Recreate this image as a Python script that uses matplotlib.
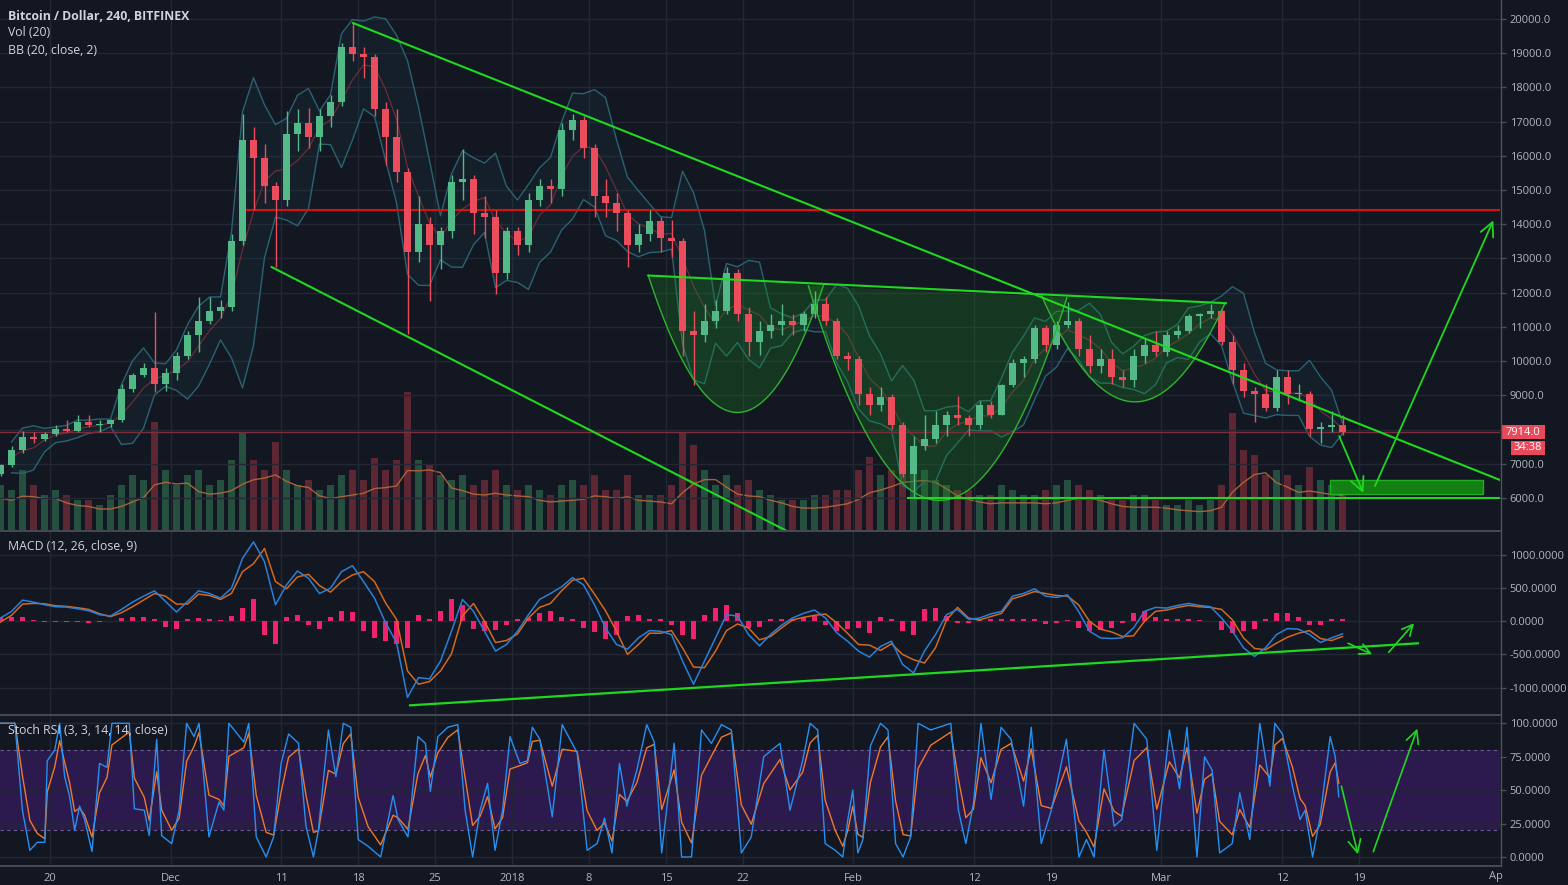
import numpy as np
import pandas as pd
import matplotlib
matplotlib.use("Agg")
import matplotlib.pyplot as plt
from matplotlib.patches import Rectangle
from matplotlib.lines import Line2D

# ---------------- data (daily) ----------------
start_date = "2017-11-15"
ref_date = "2017-11-20"          # day 0 of the time axis
open_first = 6700

closes = [6960, 7410, 7770, 7720, 7870, 8020, 7970, 8220, 8120, 8170,
          8270, 9190, 9590, 9800, 9340, 9640, 10160, 10770, 11170, 11470,
          11580, 13500, 16450, 15940, 15130, 14720, 16650, 16950, 16550, 17160,
          17560, 19190, 18990, 18880, 17360, 16550, 15530, 13200, 14010, 13400,
          13810, 15230, 15330, 14320, 14220, 12590, 13810, 13400, 14720, 15130,
          15030, 16750, 17060, 16240, 14820, 14620, 14320, 13400, 13710, 14110,
          13610, 13500, 10870, 10770, 11170, 11470, 12590, 11370, 10560, 10870,
          11070, 11170, 11070, 11370, 11680, 11170, 10160, 10060, 9040, 8730,
          8940, 8120, 6700, 7520, 7720, 8120, 8430, 8330, 8120, 8730,
          8430, 9290, 9950, 10060, 10970, 10460, 11070, 11170, 10360, 9850,
          10060, 9540, 9440, 10160, 10460, 10260, 10770, 10870, 11320, 11370,
          11470, 10560, 9750, 9140, 9040, 8630, 9550, 9040, 9040, 8020,
          8070, 8130, 7914]

highs = [7000, 7520, 7970, 7920, 7920, 8120, 8270, 8430, 8430, 8270,
         8320, 9340, 9640, 9950, 11450, 9800, 10260, 10870, 11880, 11880,
         11780, 13710, 17210, 16850, 16350, 15230, 17300, 17360, 17390, 17360,
         17770, 19290, 19910, 19190, 18990, 17560, 17360, 15640, 14820, 14220,
         13910, 15430, 16200, 15430, 14820, 14420, 13910, 13910, 14920, 15330,
         15330, 16950, 17210, 17160, 16350, 15330, 14920, 14420, 14010, 14420,
         14220, 14120, 13610, 11470, 11680, 11780, 12760, 12690, 11570, 11170,
         11370, 11680, 11370, 11470, 12050, 11880, 11270, 10260, 10160, 9240,
         9240, 9040, 8220, 7820, 8430, 8530, 8530, 8990, 8430, 8840,
         8840, 9340, 10050, 10160, 11070, 11070, 11170, 11720, 11270, 10770,
         10360, 10360, 9750, 10360, 10670, 10870, 10870, 11070, 11370, 11420,
         11670, 11520, 10770, 9950, 9240, 9340, 9750, 9750, 9340, 9140,
         8220, 8530, 8430]

lows = [6650, 6910, 7310, 7620, 7670, 7820, 7920, 7920, 8070, 7920,
        8070, 8220, 9090, 9540, 9090, 9140, 9440, 10050, 10260, 11080,
        11270, 11470, 13400, 14420, 14620, 12760, 14520, 16140, 16240, 16140,
        16850, 17460, 18780, 18270, 17160, 15740, 15230, 10780, 12900, 11750,
        12690, 13610, 14720, 13710, 13610, 11960, 12390, 13100, 13200, 14520,
        14620, 14820, 16450, 15940, 14210, 14210, 13810, 12760, 13200, 13510,
        13200, 13050, 10160, 9290, 10560, 10970, 11370, 11170, 10160, 10190,
        10670, 10770, 10770, 10870, 11270, 11070, 10060, 9750, 8730, 8430,
        8530, 8020, 6600, 6000, 7410, 7620, 7820, 8120, 7820, 8020,
        8330, 8430, 9240, 9540, 9950, 10260, 10360, 10970, 10160, 9650,
        9650, 9340, 9240, 9240, 9950, 10160, 10160, 10670, 10820, 10970,
        11270, 10460, 9340, 8940, 8220, 8530, 8530, 8740, 8840, 7820,
        7620, 7920, 7850]

volumes = [45, 40, 60, 45, 35, 40, 35, 30, 30, 25,
           35, 45, 55, 50, 108, 60, 45, 55, 60, 45,
           50, 70, 97, 70, 60, 88, 60, 45, 50, 40,
           45, 55, 60, 50, 72, 60, 70, 138, 70, 65,
           55, 50, 55, 45, 50, 60, 45, 40, 45, 40,
           35, 45, 50, 45, 55, 40, 40, 55, 35, 35,
           35, 45, 98, 85, 60, 45, 55, 45, 50, 40,
           35, 30, 30, 30, 35, 35, 40, 40, 60, 73,
           55, 60, 83, 80, 60, 50, 45, 40, 40, 35,
           35, 45, 40, 35, 35, 40, 45, 50, 45, 40,
           35, 30, 30, 35, 35, 30, 25, 25, 30, 25,
           30, 45, 117, 80, 75, 55, 60, 55, 45, 63,
           50, 45, 40]

macd_vals = [50, 150, 320, 290, 250, 220, 215, 190, 160, 100,
             80, 180, 290, 380, 460, 300, 140, 300, 460, 420,
             350, 500, 950, 1200, 900, 250, 550, 760, 650, 420,
             500, 750, 840, 600, 350, -20, -320, -1150, -850, -870,
             -600, -150, 330, 150, -150, -450, -350, -150, 100, 330,
             420, 520, 660, 550, 250, -100, -350, -420, -250, -140,
             -150, -200, -600, -950, -600, -250, 100, 80, -200, -370,
             -200, -60, 50, 120, 170, 50, -170, -300, -450, -540,
             -380, -300, -650, -780, -450, -200, 100, 180, 30, 50,
             110, 150, 380, 420, 490, 380, 360, 400, 150, -150,
             -250, -260, -250, -100, 150, 210, 200, 240, 270, 240,
             220, 50, -150, -400, -530, -400, -200, -110, -120, -200,
             -320, -250, -190]

macd_hist = [60, 60, 60, 20, -15, -15, -10, -15, -20, -15,
             10, 50, 70, 60, 40, -80, -120, 40, 50, 30,
             20, 80, 200, 330, -200, -350, 60, 90, -60, -120,
             60, 150, 140, -150, -250, -300, -350, -400, 100, 40,
             150, 340, 250, -120, -150, -130, -60, 40, 50, 120,
             150, 60, 40, -100, -160, -260, -200, 80, 100, 40,
             30, -60, -200, -260, 100, 200, 240, 120, -100, -90,
             30, 40, 30, 60, 80, -60, -150, -120, -100, -180,
             60, 40, -150, -200, 180, 200, 80, -30, -20, 30,
             40, 30, 40, 30, 40, -40, -30, 20, -100, -150,
             -130, -100, -20, 120, 150, 60, 30, 30, 30, 20,
             10, -130, -170, -150, -120, 30, 130, 130, 60, -60,
             -60, 40, 40]

stoch_days = [-4.55, -3.19, -2.51, -1.83, -1.15, -0.47, -0.25, 0.43, 0.88, 1.33,
              1.79, 2.24, 2.69, 3.14, 3.82, 4.50, 5.18, 5.63, 7.21, 7.67,
              8.57, 9.02, 9.70, 10.15, 11.06, 11.74, 12.42, 13.09, 13.55, 14.45,
              15.36, 15.81, 16.26, 17.62, 18.07, 18.75, 19.65, 20.33, 21.01, 21.69,
              22.59, 23.27, 23.95, 24.40, 25.31, 25.99, 26.66, 27.34, 28.02, 28.92,
              30.06, 31.19, 31.64, 32.54, 33.45, 34.13, 34.58, 35.26, 36.16, 37.07,
              37.74, 38.42, 39.10, 39.78, 40.46, 41.14, 41.82, 42.72, 43.40, 43.85,
              44.53, 45.66, 46.56, 47.92, 48.83, 49.73, 50.41, 51.09, 51.77, 52.44,
              53.35, 54.25, 54.93, 55.61, 56.74, 57.42, 58.32, 59.23, 60.13, 61.04,
              61.94, 62.85, 63.75, 64.88,
              66.36, 67.27, 68.42, 69.10, 69.79, 70.47, 71.38, 72.07, 72.53, 72.98,
              73.44, 73.90, 74.58, 75.50, 76.18, 76.87, 77.55, 78.24, 78.92, 80.06,
              81.89, 82.58, 83.26, 83.95, 84.63, 85.55, 86.46, 87.37, 88.51, 89.20,
              90.11, 91.03, 92.40, 93.54, 94.22, 94.91, 95.82, 96.74, 97.42, 98.56,
              99.71, 100.62, 101.76, 102.68, 103.36, 104.27, 104.96, 105.64, 106.33, 107.47,
              108.16, 109.07, 109.98, 110.90, 111.35, 112.04, 112.95, 113.64, 114.10, 114.78,
              115.47, 116.38, 116.84, 117.16]

stoch_k = [100, 100, 35, 5, 11, 11, 72, 80, 100, 60,
           45, 20, 38, 28, 4, 70, 67, 100, 100, 36,
           35, 16, 88, 16, 10, 35, 100, 90, 100, 15,
           41, 35, 100, 86, 100, 15, 0, 15, 70, 92,
           85, 23, 0, 20, 95, 60, 100, 97, 13, 8,
           0, 46, 28, 15, 90, 85, 49, 90, 97, 99,
           35, 0, 35, 55, 5, 35, 90, 70, 72, 97,
           88, 30, 99, 78, 5, 10, 29, 3, 70, 38,
           65, 99, 86, 3, 85, 0, 0, 95, 85, 99,
           95, 3, 15, 75,
           85, 35, 72, 100, 95, 10, 5, 0, 28, 50,
           3, 13, 83, 100, 95, 10, 0, 15, 100, 95,
           100, 35, 10, 40, 100, 43, 97, 88, 38, 97,
           10, 35, 88, 0, 13, 0, 80, 23, 28, 100,
           88, 5, 95, 51, 97, 0, 75, 65, 3, 10,
           48, 13, 100, 53, 100, 92, 53, 28, 35, 0,
           30, 90, 75, 45]

price_ticks = [20000, 19000, 18000, 17000, 16000, 15000, 14000, 13000,
               12000, 11000, 10000, 9000, 8000, 7000, 6000]
macd_ticks = [1000, 500, 0, -500, -1000]
stoch_ticks = [100, 75, 50, 25, 0]
date_ticks = ["2017-11-20", "2017-12-01", "2017-12-11", "2017-12-18", "2017-12-25",
              "2018-01-01", "2018-01-08", "2018-01-15", "2018-01-22", "2018-02-01",
              "2018-02-12", "2018-02-19", "2018-03-01", "2018-03-12", "2018-03-19"]
date_labels = ["20", "Dec", "11", "18", "25", "2018", "8", "15", "22", "Feb",
               "12", "19", "Mar", "12", "19"]

last_price = 7914.0
countdown = "34:38"
resistance_price = 14430
support_price = 6000

# chart drawings: (day offset from 2017-11-20, value)
upper_trend_days, upper_trend_prices = [27.55, 131.82], [19883, 6525]
lower_trend_days, lower_trend_prices = [20.15, 67.0], [12750, 5034]
neck_days, neck_prices = [54.39, 106.91], [12502, 11693]
cup_left = ([54.39, 70.30], [12502, 12205], 8501)
cup_mid = ([68.94, 92.45], [12205, 11860], 5930)
cup_right = ([90.15, 106.82], [11910, 11693], 8810)
resist_days = [17.27, 131.82]
support_days = [78.0, 131.82]
target_box_days, target_box_prices = [116.36, 130.25], [6107, 6525]
price_arrows = [((117.2, 7808), (119.39, 6148)), ((120.45, 6347), (131.21, 14113))]
macd_trend_days, macd_trend_vals = [32.73, 124.36], [-1269, -332]
macd_arrows = [((118.0, -332), (120.2, -498)), ((121.7, -468), (124.0, -30))]
stoch_arrows = [((117.4, 53), (118.9, 2)), ((120.3, 4), (124.3, 96))]

# ---------------- styling ----------------
BG = "#131722"
GRID = "#232733"
TXT = "#B2B5BE"
UP, DN = "#53B987", "#EB4D5C"
VUP, VDN = "#25503F", "#5C2632"
LIME = "#1FD81F"
W, H = 1568, 885

plt.rcParams["font.family"] = ["Open Sans", "DejaVu Sans"]

fig = plt.figure(figsize=(W / 100, H / 100), dpi=100, facecolor=BG)


def rect(x0, y0, x1, y1):
    return [x0 / W, 1 - y1 / H, (x1 - x0) / W, (y1 - y0) / H]


XL = (-50 / 11, 1450 / 11)

dates = pd.date_range(start_date, periods=len(closes), freq="D")
day = (dates - pd.Timestamp(ref_date)).days.values.astype(float)
xc = day + 0.5
tick_days = (pd.to_datetime(date_ticks) - pd.Timestamp(ref_date)).days.values + 0.0

o = np.array([open_first] + closes[:-1], dtype=float)
c = np.array(closes, dtype=float)
h = np.array(highs, dtype=float)
l = np.array(lows, dtype=float)
up = c >= o


def style(ax, ylim, ticks, labels):
    ax.set_xlim(*XL)
    ax.set_ylim(*ylim)
    for s in ax.spines.values():
        s.set_visible(False)
    ax.yaxis.tick_right()
    ax.set_yticks(ticks)
    ax.set_yticklabels(labels)
    ax.tick_params(axis="y", colors="#4A4E5A", labelcolor=TXT, labelsize=8,
                   length=4, width=1, pad=3)
    ax.set_xticks(tick_days)
    ax.tick_params(axis="x", length=0, labelbottom=False)
    ax.grid(True, color=GRID, lw=1)
    ax.set_axisbelow(True)


# ---- volume (under price) ----
vax = fig.add_axes(rect(0, 0, 1500, 530))
vax.set_facecolor(BG)
vax.set_xlim(*XL)
vax.set_ylim(0, 530)
vax.set_xticks([]); vax.set_yticks([])
for s in vax.spines.values():
    s.set_visible(False)
vax.bar(xc, volumes, width=0.55, color=np.where(up, VUP, VDN), linewidth=0)
vma = pd.Series(volumes).rolling(4, min_periods=1).mean()
vax.plot(xc, vma * 0.7, color="#B5693A", lw=1, alpha=0.9)

# ---- price ----
ax = fig.add_axes(rect(0, 0, 1500, 530))
ax.patch.set_alpha(0)
style(ax, (5064, 20555), price_ticks,
      ["" if v == 8000 else f"{v:.1f}" for v in price_ticks])

s = pd.Series(closes, dtype=float)
mid = s.rolling(4, min_periods=2).mean()
sd = s.rolling(4, min_periods=2).std(ddof=0)
bb_up, bb_lo = mid + 2 * sd, mid - 2 * sd
ax.fill_between(xc, bb_lo, bb_up, color="#1E6878", alpha=0.10, lw=0, zorder=1)
ax.plot(xc, bb_up, color="#2A6370", lw=1, zorder=2)
ax.plot(xc, bb_lo, color="#2A6370", lw=1, zorder=2)
ax.plot(xc, mid, color="#6E2C36", lw=0.9, zorder=2)


def cup(days2, rim2, bottom):
    t = np.linspace(-1, 1, 120)
    xs = (days2[0] + days2[1]) / 2 + (days2[1] - days2[0]) / 2 * t
    rim = rim2[0] + (rim2[1] - rim2[0]) * (t + 1) / 2
    depth = (rim2[0] + rim2[1]) / 2 - bottom
    ys = rim - depth * (1 - t ** 2)
    ax.fill(xs, ys, color="#1E8C1E", alpha=0.27, lw=0, zorder=2)
    ax.plot(xs, ys, color="#2DB52D", lw=1, zorder=6)


for cp in (cup_left, cup_mid, cup_right):
    cup(*cp)

ax.plot(resist_days, [resistance_price] * 2, color="#D81010", lw=1.5, zorder=3)
ax.axhline(last_price, color="#7C2C3A", lw=1, zorder=3)

cols = np.where(up, UP, DN)
ax.vlines(xc, l, h, colors=cols, lw=1, zorder=4)
ax.bar(xc, np.maximum(np.abs(c - o), 40), bottom=np.minimum(o, c), width=0.62,
       color=cols, linewidth=0, zorder=5)

ax.plot(upper_trend_days, upper_trend_prices, color=LIME, lw=1.5, zorder=7)
ax.plot(lower_trend_days, lower_trend_prices, color=LIME, lw=1.5, zorder=7)
ax.plot(neck_days, neck_prices, color=LIME, lw=1.5, zorder=7)
ax.plot(support_days, [support_price] * 2, color=LIME, lw=1.5, zorder=7)
ax.add_patch(Rectangle((target_box_days[0], target_box_prices[0]),
                       target_box_days[1] - target_box_days[0],
                       target_box_prices[1] - target_box_prices[0],
                       facecolor="#138A13", edgecolor="#22B522", lw=1, alpha=0.92, zorder=7))

AST = "->,head_length=0.7,head_width=0.35"
for a, b in price_arrows:
    ax.annotate("", xy=b, xytext=a, zorder=8,
                arrowprops=dict(arrowstyle=AST, color=LIME, lw=1.3, mutation_scale=14,
                                shrinkA=0, shrinkB=0))

# ---- MACD ----
mx = fig.add_axes(rect(0, 531, 1500, 714))
mx.set_facecolor(BG)
style(mx, (-1400, 1364), macd_ticks, [f"{v:.4f}" for v in macd_ticks])
m = np.array(macd_vals, dtype=float)
hst = np.array(macd_hist, dtype=float)
sig = m - hst
mx.bar(xc, hst, width=0.45, color="#F0226E", linewidth=0, zorder=3)
mx.plot(xc, sig, color="#D2691E", lw=1.1, zorder=4)
mx.plot(xc, m, color="#2B7FD6", lw=1.1, zorder=5)
mx.plot(macd_trend_days, macd_trend_vals, color=LIME, lw=1.6, zorder=6)
for a, b in macd_arrows:
    mx.annotate("", xy=b, xytext=a, zorder=8,
                arrowprops=dict(arrowstyle=AST, color=LIME, lw=1.2, mutation_scale=11,
                                shrinkA=0, shrinkB=0))

# ---- Stoch RSI ----
sx = fig.add_axes(rect(0, 715, 1500, 865))
sx.set_facecolor(BG)
style(sx, (-6.0, 106.2), stoch_ticks, [f"{v:.4f}" for v in stoch_ticks])
sx.fill_between(list(XL), 20, 80, color="#2C1A4E", lw=0, zorder=0.2)
sx.axhline(80, color="#6C5B8C", lw=0.8, ls=(0, (3, 3)), zorder=1)
sx.axhline(20, color="#6C5B8C", lw=0.8, ls=(0, (3, 3)), zorder=1)
k = pd.Series(stoch_k, dtype=float)
dline = k.ewm(alpha=0.6, adjust=False).mean()
sx.plot(stoch_days, dline, color="#F0782A", lw=1, zorder=4)
sx.plot(stoch_days, k, color="#2690F0", lw=1, zorder=5)
for a, b in stoch_arrows:
    sx.annotate("", xy=b, xytext=a, zorder=8,
                arrowprops=dict(arrowstyle=AST, color=LIME, lw=1.2, mutation_scale=13,
                                shrinkA=0, shrinkB=0))
sx.set_xticklabels(date_labels)
sx.tick_params(axis="x", length=0, pad=6, labelbottom=True, labelcolor=TXT, labelsize=8)
fig.text(1496 / W, 1 - 877 / H, "Ap", color=TXT, fontsize=8, ha="center", va="center")

# ---- separators / axis line ----
SEP = "#4E525E"
for yy in (530.5, 714.5, 865.5):
    fig.add_artist(Line2D([0, 1500 / W], [1 - yy / H] * 2, color=SEP, lw=1.2))
fig.add_artist(Line2D([1500.5 / W] * 2, [1 - 865.5 / H, 1], color=SEP, lw=1))

# ---- legends ----
fig.text(8 / W, 1 - 16 / H, "Bitcoin / Dollar, 240, BITFINEX", color="#D1D4DC",
         fontsize=8.8, fontweight="bold", va="center", ha="left")
fig.text(8 / W, 1 - 33 / H, "Vol (20)", color="#D1D4DC", fontsize=8.8, va="center")
fig.text(8 / W, 1 - 50 / H, "BB (20, close, 2)", color="#D1D4DC", fontsize=8.8, va="center")
fig.text(8 / W, 1 - 547 / H, "MACD (12, 26, close, 9)", color="#D1D4DC", fontsize=8.8, va="center")
fig.text(8 / W, 1 - 731 / H, "Stoch RSI (3, 3, 14, 14, close)", color="#D1D4DC",
         fontsize=8.8, va="center")

# ---- price tags ----
TAG = "#E84A5C"
fig.add_artist(Rectangle((1501 / W, 1 - 439 / H), 44 / W, 14 / H, transform=fig.transFigure,
                         facecolor=TAG, edgecolor="none"))
fig.text(1523 / W, 1 - 432 / H, f"{last_price:.1f}", color="white", fontsize=8,
         ha="center", va="center")
fig.add_artist(Rectangle((1511 / W, 1 - 455 / H), 34 / W, 14 / H, transform=fig.transFigure,
                         facecolor=TAG, edgecolor="none"))
fig.text(1528 / W, 1 - 448 / H, countdown, color="white", fontsize=8,
         ha="center", va="center")

fig.savefig("out.png", dpi=100, facecolor=BG)
